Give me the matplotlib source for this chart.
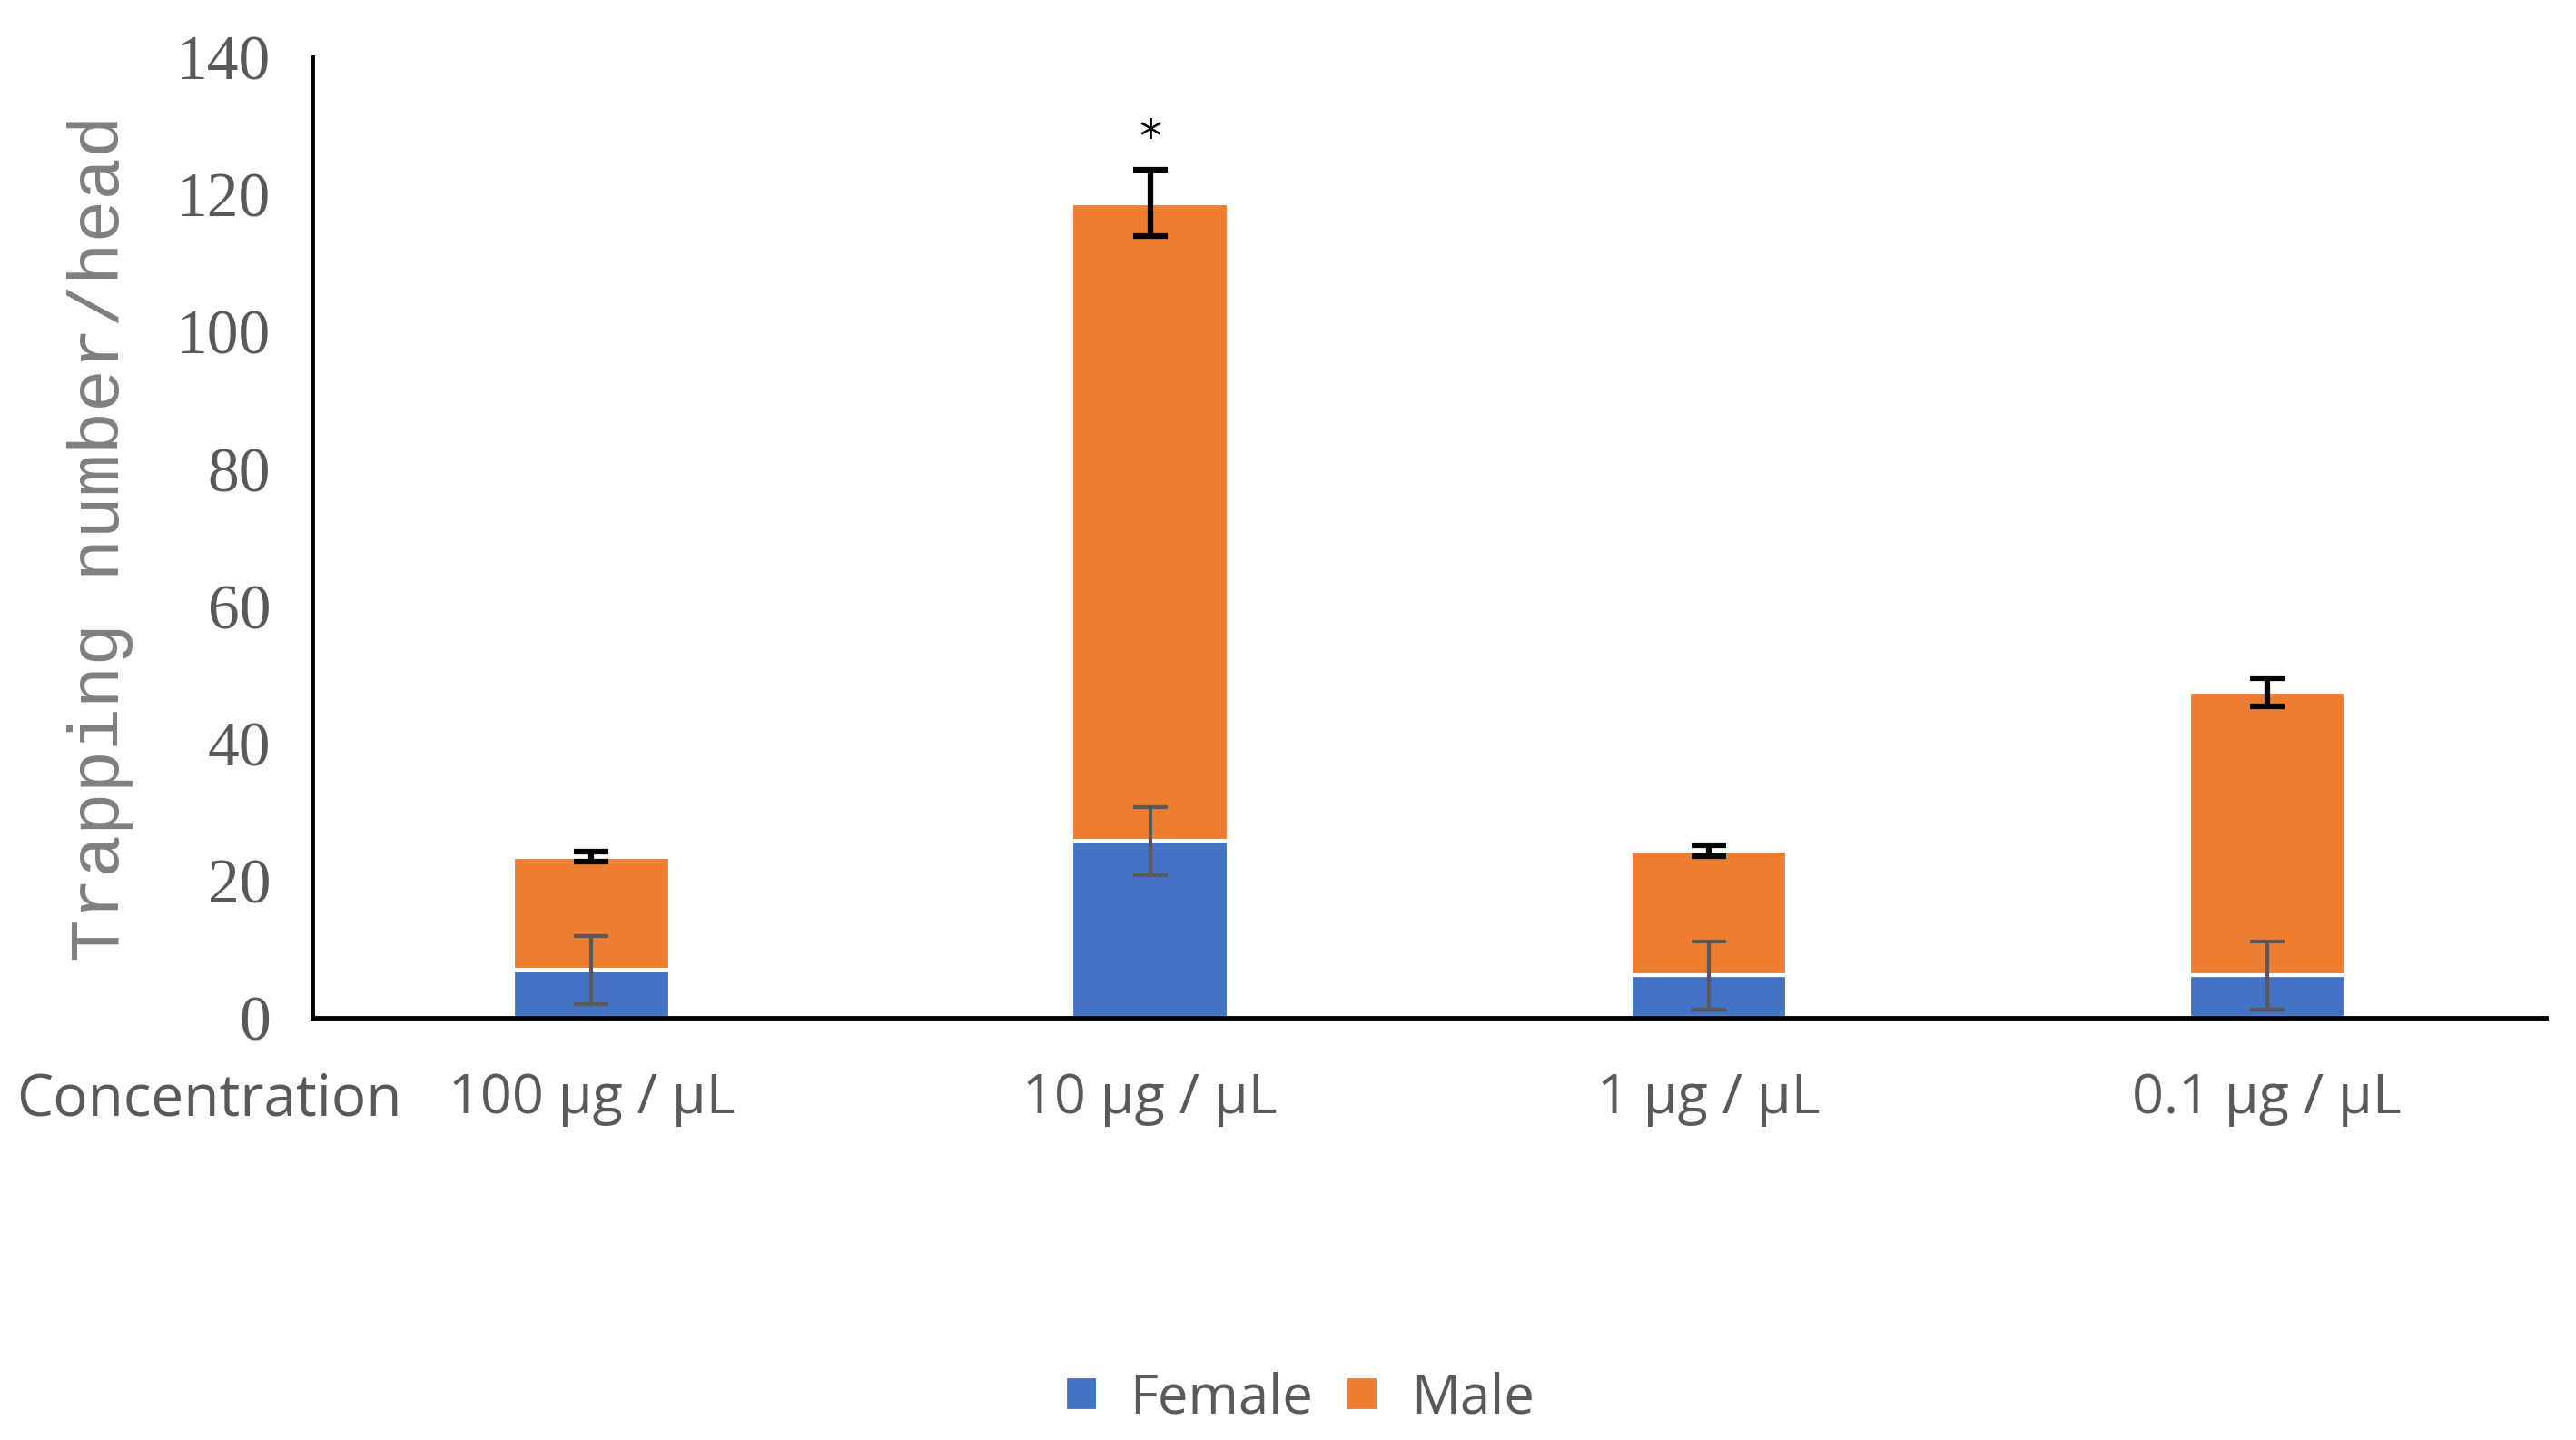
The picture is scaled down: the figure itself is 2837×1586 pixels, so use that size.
import matplotlib
matplotlib.use("Agg")
import matplotlib.pyplot as plt
import numpy as np

categories = ["100 μg / μL", "10 μg / μL", "1 μg / μL", "0.1 μg / μL"]
female = [7.0, 25.8, 6.2, 6.2]
male = [16.5, 93.0, 18.2, 41.3]
female_err = [5.0, 5.0, 5.0, 5.0]
male_err = [0.7, 4.8, 0.8, 2.1]
significance = ["", "*", "", ""]
yticks = [0, 20, 40, 60, 80, 100, 120, 140]

BLUE = "#4472C4"
ORANGE = "#ED7D31"
GREY = "#595959"

fig = plt.figure(figsize=(28.37, 15.86), dpi=100)
ax = fig.add_axes([0.1212, 0.293, 0.8673, 0.667])

x = np.arange(len(categories))
w = 0.28
total = np.array(female) + np.array(male)

ax.bar(x, female, w, color=BLUE, edgecolor="white", linewidth=3, label="Female", zorder=2)
ax.bar(x, male, w, bottom=female, color=ORANGE, edgecolor="white", linewidth=3, label="Male", zorder=2)

ax.errorbar(x, female, yerr=female_err, fmt="none", ecolor=GREY, elinewidth=3, capsize=14, capthick=3, zorder=3)
ax.errorbar(x, total, yerr=male_err, fmt="none", ecolor="black", elinewidth=4.5, capsize=14, capthick=4.5, zorder=3)

for xi, t, e, s in zip(x, total, male_err, significance):
    if s:
        ax.text(xi, t + e + 1.4, s, ha="center", va="bottom", fontsize=36, color="black")

ax.set_xlim(-0.5, 3.5)
ax.set_ylim(0, 140)
ax.set_yticks(yticks)
ax.set_yticklabels([str(v) for v in yticks], family="Liberation Serif", fontsize=50, color=GREY)
ax.set_xticks(x)
ax.set_xticklabels(categories, family="Open Sans", fontsize=44, color=GREY)
ax.tick_params(axis="both", length=0)
ax.tick_params(axis="y", pad=33)
ax.tick_params(axis="x", pad=43)

for sp in ["top", "right"]:
    ax.spines[sp].set_visible(False)
for sp in ["left", "bottom"]:
    ax.spines[sp].set_linewidth(3.5)
    ax.spines[sp].set_color("black")

ax.set_ylabel("Trapping number/head", family="Liberation Mono", fontsize=56, color="#7f7f7f", labelpad=34)

fig.text(0.0064, 0.236, "Concentration", family="Open Sans", fontsize=46, color=GREY, ha="left", va="center")

handles, labels = ax.get_legend_handles_labels()
leg = fig.legend(handles, labels, loc="center", bbox_to_anchor=(0.5045, 0.029), ncol=2, frameon=False,
                 prop={"family": "Open Sans", "size": 43}, handlelength=0.6, handleheight=0.6,
                 handletextpad=0.6, columnspacing=0.6)
for t in leg.get_texts():
    t.set_color(GREY)

fig.savefig("out.png", dpi=100, facecolor="white")
